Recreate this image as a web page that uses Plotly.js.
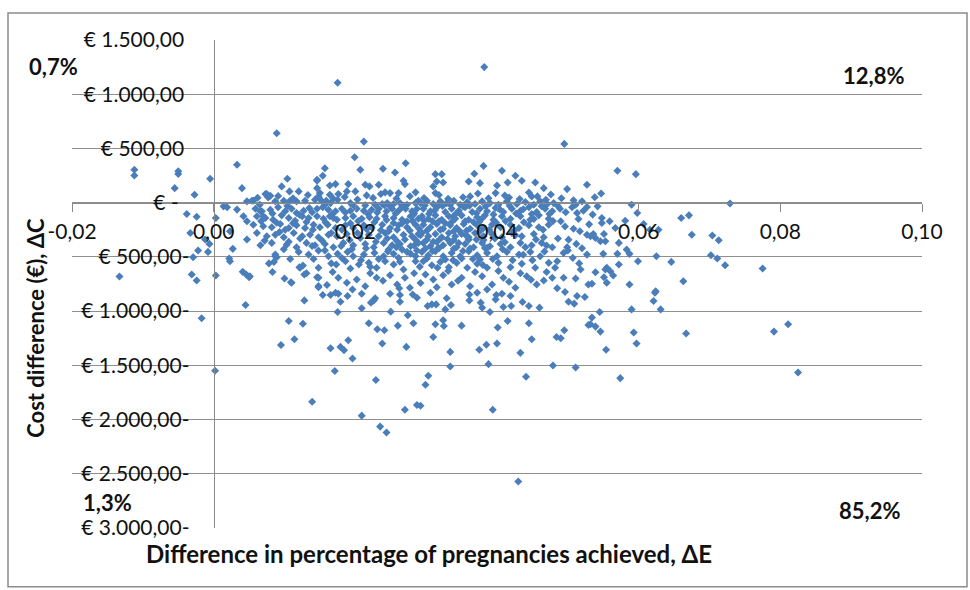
<!DOCTYPE html>
<html>
<head>
<meta charset="utf-8">
<script src="https://cdn.plot.ly/plotly-3.0.1.min.js"></script>
<style>
html,body{margin:0;padding:0;background:#fff;}
#chart{width:970px;height:590px;}
</style>
</head>
<body>
<div id="chart"></div>
<script>
// Simulated incremental results: [ΔE (difference in % pregnancies), ΔC (cost difference, €)]
const outlierPairs = [
 [-0.0112,303],[-0.0112,251],[-0.0050,290],[-0.0050,265],[-0.0055,134],[-0.0027,73],[-0.0005,220],[0.0033,349],[0.0040,134],
 [-0.0038,-105],[-0.0024,-129],[0.0003,-141],[0.0014,-34],[0.0019,-43],[0.0033,-64],[0.0042,-126],[0.0047,12],
 [-0.0033,-279],[0.0023,-264],[-0.0012,-340],[-0.0006,-380],[-0.0022,-441],[-0.0008,-454],[0.0027,-426],[-0.0029,-503],[0.0022,-515],[0.0023,-540],[0.0047,-340],
 [-0.0133,-680],[-0.0031,-662],[-0.0024,-717],[0.0003,-671],[0.0041,-638],[0.0046,-662],[0.0050,-687],[0.0045,-944],[-0.0017,-1066],[0.0002,-1550],
 [0.0087,-494],[0.0085,-546],[0.0109,-733],[0.0128,-662],[0.0121,-595],[0.0128,-901],[0.0106,-1091],[0.0126,-1116],[0.0114,-1259],[0.0095,-1312],[0.0139,-1835],[0.0146,-687],[0.0148,-769],
 [0.0089,640],[0.0104,220],[0.0096,150],[0.0107,104],[0.0120,104],[0.0075,79],[0.0080,64],[0.0056,18],[0.0146,211],[0.0047,-172],[0.0066,-80],[0.0070,-126],
 [0.0212,563],[0.0199,419],[0.0271,364],[0.0157,318],[0.0207,303],[0.0239,312],[0.0256,278],[0.0154,248],[0.0146,202],[0.0268,202],[0.0270,171],[0.0172,171],[0.0190,171],[0.0214,165],[0.0220,150],[0.0233,165],[0.0164,159],[0.0146,134],[0.0150,88],[0.0148,58],[0.0188,104],[0.0200,104],[0.0242,95],[0.0249,88],[0.0261,88],[0.0285,95],[0.0164,73],[0.0176,79],[0.0216,67],
 [0.0175,1106],[0.0382,1250],[0.0430,-2571]
];
const midPairs = [
 [0.0495,542],[0.0381,339],[0.0407,294],[0.0426,248],[0.0435,202],[0.0368,266],[0.0376,180],[0.0360,196],[0.0400,159],[0.0415,186],[0.0454,186],[0.0466,134],[0.0499,125],[0.0527,165],[0.0313,263],[0.0322,263],[0.0315,196],[0.0324,186],[0.0310,150],[0.0313,88],[0.0362,58],[0.0398,88],[0.0417,48],[0.0445,94],[0.0457,58],[0.0469,27],[0.0520,12],[0.0506,-43],[0.0522,-74],[0.0513,-96],[0.0480,-4],[0.0489,-56],[0.0508,-240],[0.0517,-264],[0.0507,-509],[0.0527,-295],[0.0499,-411],[0.0529,-754],[0.0494,-693],[0.0466,-718],
 [0.0490,-172],[0.0501,-341],[0.0485,-540],[0.0518,-616],[0.0494,-463],[0.0527,-479]
];
const rightPairs = [
 [0.0570,294],[0.0596,263],[0.0547,85],[0.0590,-19],[0.0542,-34],[0.0729,-8],[0.0598,-96],[0.0548,-142],[0.0548,-188],[0.0559,-172],[0.0581,-166],[0.0607,-197],[0.0660,-142],[0.0671,-117],[0.0567,-233],[0.0628,-249],[0.0616,-249],[0.0675,-295],[0.0704,-302],[0.0713,-347],[0.0536,-289],[0.0532,-310],[0.0551,-289],[0.0539,-325],[0.0546,-356],[0.0553,-356],[0.0572,-371],[0.0583,-433],[0.0587,-472],[0.0550,-472],[0.0570,-472],[0.0625,-494],[0.0702,-485],[0.0711,-515],[0.0599,-540],[0.0646,-546],[0.0722,-577],[0.0555,-601],[0.0560,-632],[0.0553,-616],[0.0572,-571],[0.0539,-641],[0.0564,-672],[0.0551,-687],[0.0534,-748],[0.0555,-739],[0.0587,-754],[0.0663,-724],[0.0624,-816],
 [0.0775,-607],[0.0791,-1189],[0.0811,-1121],[0.0825,-1566],
 [0.0623,-830],[0.0621,-907],[0.0590,-984],[0.0631,-984],[0.0545,-1008],[0.0534,-1060],[0.0532,-1121],[0.0539,-1143],[0.0546,-1189],[0.0593,-1198],[0.0597,-1299],[0.0667,-1207],[0.0554,-1357],[0.0574,-1618]
];
const lowPairs = [
 [0.0306,-830],[0.0329,-882],[0.0361,-846],[0.0361,-901],[0.0372,-830],[0.0399,-852],[0.0419,-861],[0.0496,-824],[0.0513,-861],[0.0524,-870],[0.0302,-953],[0.0308,-938],[0.0314,-938],[0.0327,-984],[0.0335,-944],[0.0377,-922],[0.0379,-968],[0.0390,-1008],[0.0398,-892],[0.0409,-962],[0.0420,-953],[0.0407,-840],[0.0436,-916],[0.0445,-953],[0.0460,-968],[0.0501,-913],[0.0509,-931],[0.0324,-1085],[0.0325,-1137],[0.0313,-1121],[0.0350,-1134],[0.0401,-1152],[0.0415,-1091],[0.0445,-1112],[0.0310,-1238],[0.0449,-1259],[0.0484,-1238],[0.0490,-1250],[0.0495,-1177],[0.0529,-1128],[0.0385,-1311],[0.0400,-1299],[0.0375,-1357],[0.0334,-1376],[0.0433,-1385],[0.0334,-1510],[0.0388,-1489],[0.0479,-1501],[0.0511,-1520],[0.0303,-1596],[0.0299,-1679],[0.0441,-1605],[0.0292,-1872],[0.0394,-1909],
 [0.0154,-852],[0.0165,-852],[0.0172,-830],[0.0176,-840],[0.0189,-861],[0.0179,-913],[0.0209,-840],[0.0209,-974],[0.0222,-922],[0.0226,-901],[0.0228,-882],[0.0249,-840],[0.0263,-852],[0.0263,-913],[0.0281,-846],[0.0287,-876],[0.0175,-1008],[0.0250,-1005],[0.0274,-1039],[0.0219,-1112],[0.0231,-1167],[0.0241,-1177],[0.0260,-1134],[0.0282,-1112],[0.0190,-1268],[0.0165,-1342],[0.0179,-1330],[0.0184,-1360],[0.0238,-1299],[0.0272,-1330],[0.0196,-1437],[0.0171,-1553],[0.0229,-1636],[0.0209,-1964],[0.0270,-1909],[0.0287,-1866],[0.0235,-2065],[0.0244,-2120]
];
const coreLeftPairs = [
 [0.0054,18],[0.0073,79],[0.0077,48],[0.0087,12],[0.0099,18],[0.0107,12],[0.0117,12],[0.0129,18],[0.0143,27],[0.0148,48],[0.0153,12],[0.0159,18],[0.0165,-4],[0.0175,27],[0.0193,-4],[0.0214,-25],[0.0228,-19],[0.0238,-13],[0.0245,-4],[0.0254,-13],[0.0263,-4],[0.0273,-19],[0.0285,-4],[0.0289,18],
 [0.0059,-56],[0.0068,-80],[0.0080,-65],[0.0091,-43],[0.0101,-80],[0.0110,-56],[0.0117,-96],[0.0127,-74],[0.0135,-50],[0.0146,-56],[0.0154,-43],[0.0162,-65],[0.0172,-80],[0.0181,-56],[0.0193,-74],[0.0202,-56],[0.0212,-74],[0.0223,-65],[0.0233,-56],[0.0244,-80],[0.0252,-56],[0.0261,-74],[0.0271,-56],[0.0280,-80],[0.0287,-56],
 [0.0061,-126],[0.0073,-142],[0.0084,-157],[0.0096,-117],[0.0106,-142],[0.0115,-166],[0.0125,-126],[0.0134,-142],[0.0146,-126],[0.0155,-148],[0.0164,-126],[0.0174,-157],[0.0186,-142],[0.0197,-126],[0.0209,-148],[0.0220,-135],[0.0230,-148],[0.0242,-126],[0.0254,-142],[0.0266,-157],[0.0278,-126],[0.0289,-148],
 [0.0056,-203],[0.0070,-218],[0.0082,-227],[0.0094,-197],[0.0106,-233],[0.0117,-209],[0.0129,-233],[0.0141,-203],[0.0150,-227],[0.0161,-203],[0.0172,-233],[0.0186,-209],[0.0197,-233],[0.0212,-209],[0.0223,-227],[0.0238,-203],[0.0249,-233],[0.0261,-209],[0.0273,-227],[0.0285,-203],
 [0.0061,-279],[0.0075,-310],[0.0087,-295],[0.0099,-319],[0.0113,-279],[0.0125,-310],[0.0136,-295],[0.0148,-319],[0.0162,-295],[0.0174,-310],[0.0188,-289],[0.0207,-325],[0.0219,-295],[0.0233,-310],[0.0242,-279],[0.0254,-319],[0.0268,-295],[0.0280,-310],[0.0289,-289],
 [0.0066,-393],[0.0082,-371],[0.0103,-387],[0.0117,-411],[0.0131,-371],[0.0143,-393],[0.0157,-381],[0.0169,-411],[0.0183,-371],[0.0197,-393],[0.0214,-381],[0.0226,-411],[0.0240,-371],[0.0252,-393],[0.0263,-381],[0.0278,-402],[0.0289,-371],
 [0.0087,-479],[0.0089,-503],[0.0120,-454],[0.0134,-479],[0.0148,-442],[0.0162,-494],[0.0175,-472],[0.0189,-454],[0.0197,-494],[0.0212,-479],[0.0227,-463],[0.0240,-494],[0.0254,-472],[0.0273,-454],[0.0285,-494],
 [0.0122,-601],[0.0148,-601],[0.0173,-570],[0.0186,-540],[0.0193,-607],[0.0205,-570],[0.0219,-555],[0.0230,-601],[0.0242,-540],[0.0254,-570],[0.0268,-616],[0.0285,-540],
 [0.0051,-678],[0.0110,-739],[0.0148,-693],[0.0148,-779],[0.0176,-693],[0.0188,-739],[0.0202,-708],[0.0214,-770],[0.0230,-693],[0.0249,-669],[0.0259,-754],[0.0270,-693],[0.0277,-785],
 [0.0249,-34],[0.0266,-43],[0.0282,-111],[0.0254,-188],[0.0273,-172],[0.0247,-264],[0.0277,-258],[0.0259,-356],[0.0285,-341],[0.0247,-433],[0.0266,-433],[0.0287,-442],[0.0261,-509]
];
const coreRightPairs = [
 [0.0292,-4],[0.0301,18],[0.0310,-13],[0.0320,12],[0.0329,-4],[0.0339,18],[0.0348,-19],[0.0358,6],[0.0369,-13],[0.0379,12],[0.0390,-4],[0.0402,-19],[0.0414,12],[0.0428,-13],[0.0440,6],[0.0452,-19],[0.0461,12],[0.0471,-13],
 [0.0296,-56],[0.0306,-80],[0.0315,-43],[0.0327,-86],[0.0336,-56],[0.0346,-74],[0.0355,-43],[0.0365,-86],[0.0376,-56],[0.0386,-80],[0.0398,-50],[0.0409,-86],[0.0421,-56],[0.0433,-74],[0.0445,-43],[0.0456,-86],[0.0468,-56],[0.0478,-80],
 [0.0294,-126],[0.0303,-148],[0.0313,-117],[0.0322,-157],[0.0332,-126],[0.0341,-148],[0.0350,-117],[0.0360,-157],[0.0372,-135],[0.0383,-117],[0.0395,-157],[0.0407,-126],[0.0419,-148],[0.0433,-126],[0.0447,-157],[0.0459,-117],[0.0473,-148],
 [0.0296,-203],[0.0306,-227],[0.0315,-197],[0.0324,-240],[0.0334,-209],[0.0343,-233],[0.0353,-197],[0.0362,-240],[0.0372,-209],[0.0381,-233],[0.0393,-203],[0.0405,-227],[0.0419,-203],[0.0431,-233],[0.0445,-209],[0.0459,-227],[0.0473,-203],
 [0.0294,-279],[0.0303,-310],[0.0313,-289],[0.0322,-319],[0.0332,-279],[0.0341,-310],[0.0350,-289],[0.0360,-319],[0.0369,-279],[0.0381,-310],[0.0393,-289],[0.0407,-319],[0.0421,-279],[0.0435,-310],[0.0452,-289],[0.0466,-319],
 [0.0296,-371],[0.0306,-402],[0.0315,-362],[0.0324,-393],[0.0334,-371],[0.0343,-411],[0.0355,-381],[0.0367,-411],[0.0379,-371],[0.0390,-402],[0.0405,-381],[0.0419,-411],[0.0433,-371],[0.0449,-393],[0.0463,-371],[0.0478,-411],
 [0.0294,-454],[0.0303,-485],[0.0313,-448],[0.0324,-494],[0.0336,-463],[0.0348,-494],[0.0360,-448],[0.0372,-485],[0.0386,-463],[0.0400,-494],[0.0414,-454],[0.0431,-479],[0.0447,-454],[0.0461,-494],
 [0.0296,-540],[0.0308,-577],[0.0320,-546],[0.0332,-595],[0.0343,-555],[0.0358,-601],[0.0372,-564],[0.0386,-601],[0.0402,-555],[0.0419,-595],[0.0435,-564],[0.0454,-601],[0.0473,-555],
 [0.0299,-662],[0.0310,-708],[0.0324,-669],[0.0336,-754],[0.0350,-693],[0.0362,-770],[0.0379,-678],[0.0393,-754],[0.0409,-693],[0.0426,-785],[0.0442,-678],[0.0456,-754],[0.0478,-693],
 [0.0298,-25],[0.0317,-25],[0.0334,-19],[0.0352,-34],[0.0297,-166],[0.0318,-172],[0.0336,-178],[0.0355,-172],[0.0375,-178],[0.0301,-258],[0.0320,-249],[0.0339,-264],[0.0357,-258],[0.0376,-264],[0.0301,-341],[0.0320,-332],[0.0339,-344],[0.0360,-341],[0.0381,-344],[0.0299,-423],[0.0317,-417],[0.0339,-426],[0.0362,-423],[0.0383,-417],[0.0301,-515],[0.0327,-524],[0.0350,-515],[0.0376,-524]
];
const coreExtraPairs = [
 [0.0062,45],[0.0091,62],[0.0112,40],[0.0133,70],[0.0169,35],[0.0185,52],[0.0203,30],[0.0225,44],[0.0236,80],[0.0258,38],[0.0277,60],[0.0297,42],[0.0318,70],[0.0331,35],[0.0352,50],[0.0373,85],[0.0388,40],[0.0411,66],[0.0432,33],[0.0449,58],[0.0476,75],[0.0491,40],[0.0508,22],[0.0538,50],
 [0.0065,-20],[0.0083,-100],[0.0104,-30],[0.0121,-112],[0.0139,-88],[0.0157,-22],[0.0167,-108],[0.0186,-90],[0.0198,-30],[0.0218,-104],[0.0231,-90],[0.0241,-24],[0.0257,-99],[0.0268,-28],[0.0283,-98],[0.0304,-104],[0.0312,-72],[0.0323,-30],[0.0342,-102],[0.0361,-28],[0.0371,-98],[0.0384,-34],[0.0395,-108],[0.0404,-62],[0.0418,-30],[0.0427,-100],[0.0437,-60],[0.0449,-105],[0.0463,-32],[0.0474,-104],[0.0486,-30],[0.0497,-88],[0.0511,-20],[0.0527,-40],[0.0535,-110],
 [0.0067,-170],[0.0089,-185],[0.0101,-250],[0.0112,-190],[0.0131,-178],[0.0140,-250],[0.0158,-182],[0.0169,-140],[0.0181,-250],[0.0193,-190],[0.0204,-170],[0.0216,-245],[0.0227,-180],[0.0236,-255],[0.0244,-160],[0.0259,-250],[0.0266,-190],[0.0281,-170],[0.0290,-240],[0.0309,-172],[0.0327,-190],[0.0338,-130],[0.0347,-260],[0.0367,-180],[0.0378,-150],[0.0389,-250],[0.0399,-185],[0.0412,-170],[0.0425,-255],[0.0438,-180],[0.0452,-150],[0.0465,-250],[0.0479,-170],[0.0496,-220],[0.0515,-150],[0.0530,-200],
 [0.0072,-350],[0.0093,-270],[0.0106,-360],[0.0122,-330],[0.0139,-400],[0.0153,-350],[0.0166,-280],[0.0180,-400],[0.0192,-345],[0.0203,-280],[0.0215,-420],[0.0229,-360],[0.0245,-330],[0.0258,-410],[0.0270,-340],[0.0283,-395],[0.0292,-300],[0.0310,-360],[0.0318,-420],[0.0330,-335],[0.0346,-372],[0.0356,-300],[0.0371,-340],[0.0386,-415],[0.0397,-330],[0.0411,-365],[0.0426,-300],[0.0440,-410],[0.0455,-340],[0.0470,-395],[0.0486,-330],[0.0512,-380],[0.0520,-420],
 [0.0078,-560],[0.0099,-430],[0.0108,-520],[0.0126,-580],[0.0141,-520],[0.0157,-440],[0.0166,-560],[0.0181,-510],[0.0195,-430],[0.0208,-530],[0.0221,-590],[0.0233,-520],[0.0246,-450],[0.0263,-545],[0.0278,-470],[0.0291,-590],[0.0309,-445],[0.0316,-600],[0.0338,-530],[0.0352,-445],[0.0366,-520],[0.0380,-575],[0.0394,-520],[0.0408,-430],[0.0422,-530],[0.0437,-480],[0.0450,-530],[0.0467,-450],[0.0482,-600],[0.0500,-440],[0.0516,-560],
 [0.0083,-640],[0.0100,-700],[0.0131,-650],[0.0160,-760],[0.0168,-640],[0.0196,-800],[0.0221,-650],[0.0239,-720],[0.0262,-790],[0.0283,-650],[0.0292,-740],[0.0315,-780],[0.0331,-630],[0.0345,-720],[0.0369,-640],[0.0386,-800],[0.0402,-630],[0.0417,-730],[0.0433,-650],[0.0448,-710],[0.0470,-640],[0.0485,-790],[0.0511,-700]
];

const allPairs = [].concat(outlierPairs, midPairs, rightPairs, lowPairs, coreLeftPairs, coreRightPairs, coreExtraPairs);
const deltaE = allPairs.map(p => p[0]);
const deltaC = allPairs.map(p => p[1]);

const xTickVals = [-0.02, 0, 0.02, 0.04, 0.06, 0.08, 0.10];
const xTickText = ["-0,02", "0,00", "0,02", "0,04", "0,06", "0,08", "0,10"];
const yTickVals = [1500, 1000, 500, 0, -500, -1000, -1500, -2000, -2500, -3000];
const yTickText = ["€ 1.500,00\u00a0", "€ 1.000,00\u00a0", "€ 500,00\u00a0", "€ -\u00a0\u00a0", "€ 500,00-", "€ 1.000,00-", "€ 1.500,00-", "€ 2.000,00-", "€ 2.500,00-", "€ 3.000,00-"];

const quadrantLabels = ["0,7%", "12,8%", "1,3%", "85,2%"];
const xTitle = "Difference in percentage of pregnancies achieved, ΔE";
const yTitle = "Cost difference (€), ΔC";

// plot area in pixels: left 72, right 922, top 40, bottom 528.3
const PL = 72, PW = 850, PT = 40, PH = 488.3;
const px = v => (v - PL) / PW;
const py = v => (PT + PH - v) / PH;

const trace = {
  type: 'scatter', mode: 'markers',
  x: deltaE, y: deltaC,
  marker: {symbol: 'diamond', size: 6.2, color: '#4a7ebb', line: {width: 0}},
  hoverinfo: 'skip'
};

const FONT = 'Lato, "Open Sans", sans-serif';
const boldFont = {family: FONT, size: 22, color: '#111', weight: 'bold'};

const layout = {
  width: 970, height: 590,
  margin: {l: 72, r: 48, t: 40, b: 62, pad: 0},
  paper_bgcolor: '#ffffff', plot_bgcolor: 'rgba(0,0,0,0)',
  showlegend: false,
  font: {family: FONT, size: 21, color: '#111'},
  xaxis: {
    range: [-0.02, 0.10], tickvals: xTickVals, ticktext: xTickText,
    anchor: 'free', position: 2/3,
    showline: true, linecolor: '#8a8a8a', linewidth: 1,
    ticks: 'outside', ticklen: 8, tickcolor: '#8a8a8a', tickwidth: 1,
    showgrid: false, zeroline: false, ticklabelstandoff: 2,
    tickfont: {family: FONT, size: 21, color: '#111'}
  },
  yaxis: {
    range: [-3000, 1500], tickvals: yTickVals, ticktext: yTickText,
    anchor: 'free', position: 1/6,
    showline: true, linecolor: '#8a8a8a', linewidth: 1,
    ticks: '', showgrid: true, gridcolor: '#8f8f8f', gridwidth: 1,
    zeroline: false, ticklabelstandoff: 20,
    tickfont: {family: FONT, size: 21, color: '#111'}
  },
  shapes: [{
    type: 'rect', xref: 'paper', yref: 'paper',
    x0: px(8), x1: px(967), y0: py(587), y1: py(13),
    line: {color: '#8c8c8c', width: 1.5}, fillcolor: 'rgba(0,0,0,0)', layer: 'below'
  }],
  annotations: [
    {text: quadrantLabels[0], x: px(53), y: py(67)},
    {text: quadrantLabels[1], x: px(873), y: py(76)},
    {text: quadrantLabels[2], x: px(107), y: py(503)},
    {text: quadrantLabels[3], x: px(869), y: py(511)},
    {text: xTitle, x: px(429), y: py(554), font: Object.assign({}, boldFont, {size: 24})},
    {text: yTitle, x: px(36), y: py(328), textangle: -90, font: Object.assign({}, boldFont, {size: 22})}
  ].map(a => Object.assign({xref: 'paper', yref: 'paper', showarrow: false, xanchor: 'center', yanchor: 'middle', font: boldFont}, a))
};

Plotly.newPlot('chart', [trace], layout, {displayModeBar: false, staticPlot: true});
</script>
</body>
</html>
